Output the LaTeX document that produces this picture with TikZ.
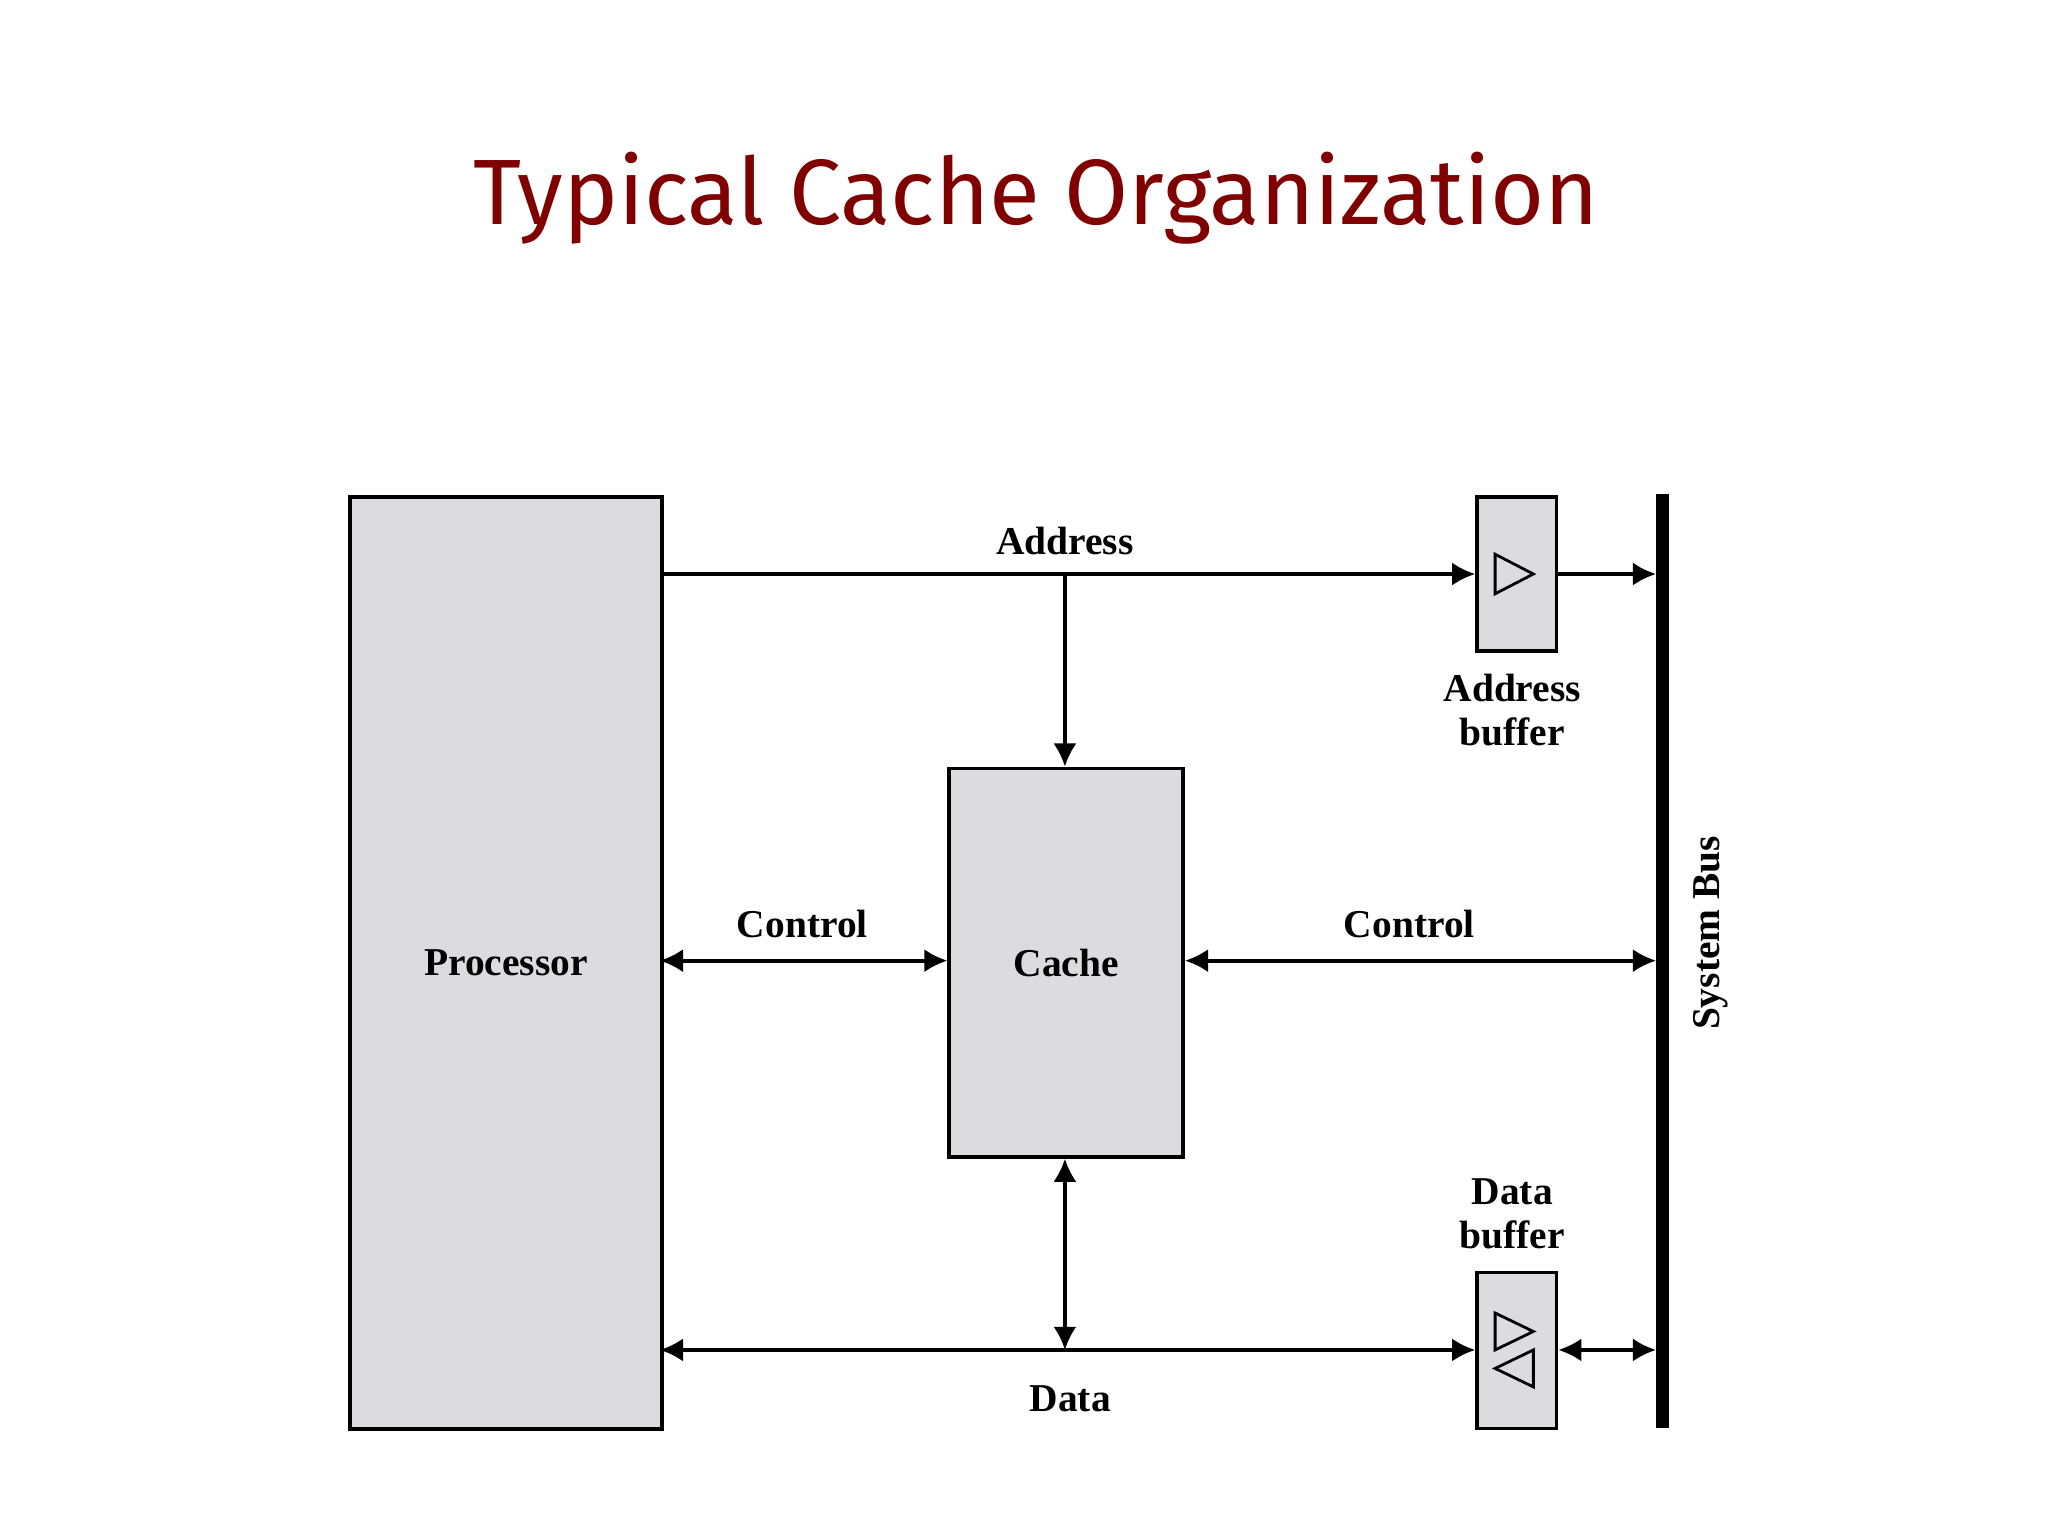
\documentclass[tikz,border=0pt]{standalone}
\usepackage{fontspec}
\setmainfont{Liberation Serif}
\newfontfamily\titlefont{Fira Sans}
\usetikzlibrary{arrows.meta}
\definecolor{boxgray}{HTML}{DCDCDE}
\definecolor{titlered}{HTML}{800000}
\begin{document}
\begin{tikzpicture}[x=0.01cm,y=-0.01cm,
  blk/.style={draw,fill=boxgray,line width=0.8pt,anchor=north west,inner sep=0},
  conn/.style={line width=0.8pt,-{Latex[length=5pt,width=5pt]}},
  bconn/.style={line width=0.8pt,{Latex[length=5pt,width=5pt]}-{Latex[length=5pt,width=5pt]}},
  lbl/.style={font=\fontsize{8.5}{9.5}\selectfont\bfseries,align=center}]
\useasboundingbox (0,0) rectangle (1552,1164);
\node[font=\titlefont\fontsize{20}{24}\selectfont,text=titlered] (title) at (785,150) {Typical Cache Organization};
\node[blk,minimum width=2.36cm,minimum height=7.06cm] (proc) at (264,375) {};
\node[lbl] at (proc.center) {Processor};
\node[blk,minimum width=1.77cm,minimum height=2.94cm] (cache) at (718,581) {};
\node[lbl] at (cache.center) {Cache};
\node[blk,minimum width=0.6cm,minimum height=1.17cm] (ab) at (1118,375) {};
\node[blk,minimum width=0.6cm,minimum height=1.18cm] (db) at (1118,963) {};
\draw[line width=0.6pt] (1133,420) -- (1162,435) -- (1133,450) -- cycle;
\draw[line width=0.6pt] (1133,995) -- (1162,1009) -- (1133,1023) -- cycle;
\draw[line width=0.6pt] (1162,1023) -- (1133,1037) -- (1162,1051) -- cycle;
\coordinate (busT) at (1260,374);
\coordinate (busB) at (1260,1082);
\draw[line width=0.1cm] (busT) -- (busB);
\coordinate (aL) at (500,435);
\coordinate (aM) at (807,435);
\coordinate (aR) at (1255,435);
\coordinate (cL) at (500,728);
\coordinate (cR) at (1255,728);
\coordinate (dL) at (500,1023);
\coordinate (dM) at (807,1023);
\coordinate (dR) at (1255,1023);
\draw[conn] (aL) -- (ab.west |- aL);
\draw[conn] (ab.east |- aL) -- (aR);
\draw[conn] (aM) -- (cache.north -| aM);
\draw[bconn] (cL) -- (cache.west |- cL);
\draw[bconn] (cache.east |- cR) -- (cR);
\draw[bconn] (dL) -- (db.west |- dL);
\draw[bconn] (cache.south -| dM) -- (dM);
\draw[bconn] (db.east |- dR) -- (dR);
\node[lbl] at (807,410) {Address};
\node[lbl] at (608,700) {Control};
\node[lbl] at (1068,700) {Control};
\node[lbl] at (811,1060) {Data};
\node[lbl] at (1146,538) {Address\\buffer};
\node[lbl] at (1146,920) {Data\\buffer};
\node[lbl,rotate=90] at (1296,707) {System Bus};
\end{tikzpicture}
\end{document}
